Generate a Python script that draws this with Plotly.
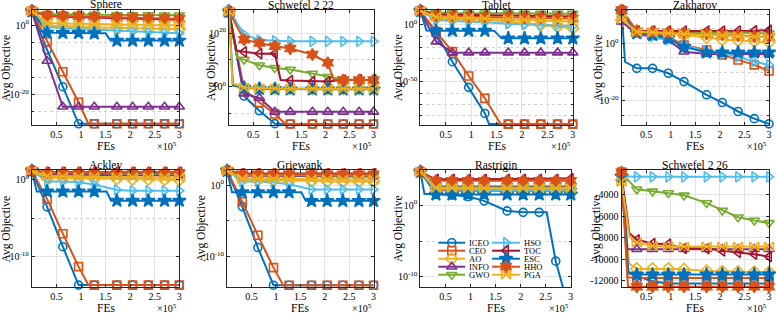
import plotly.graph_objects as go

# ---------------- data ----------------
NAMES = ["ICEO", "CEO", "AO", "INFO", "GWO", "HSO", "TOC", "ESC", "HHO", "PGA"]
FES = [0, 31000, 63000, 95000, 127000, 173000, 205000, 237000, 270000, 300000]
TITLES = ["Sphere", "Schwefel 2 22", "Tablet", "Zakharov",
          "Ackley", "Griewank", "Rastrigin", "Schwefel 2 26"]

# log10(Avg Objective) for the log panels
SPHERE = {
    "ICEO": [4.0, -7.2, -17.8, -28.5, -28.5, -28.5, -28.5, -28.5, -28.5, -28.5],
    "CEO":  [4.0, -4.8, -13.5, -22.3, -28.5, -28.5, -28.5, -28.5, -28.5, -28.5],
    "AO":   [4.0, -0.2, -0.4, -0.6, -0.7, -0.8, -0.9, -1.0, -1.1, -1.2],
    "INFO": [4.0, -10.4, -23.6, -23.6, -23.6, -23.6, -23.6, -23.6, -23.6, -23.6],
    "GWO":  [4.0, 3.2, 3.1, 3.0, 3.0, 2.9, 2.9, 2.9, 2.8, 2.8],
    "HSO":  [4.0, -0.6, -0.9, -1.1, -1.3, -1.7, -1.9, -2.1, -2.3, -2.4],
    "TOC":  [4.0, 2.6, 2.4, 2.3, 2.1, 1.9, 1.8, 1.7, 1.6, 1.5],
    "ESC":  [4.0, -2.2, -2.3, -2.3, -2.4, -4.5, -4.5, -4.5, -4.5, -4.5],
    "HHO":  [4.0, 2.7, 2.6, 2.5, 2.4, 2.2, 2.1, 2.0, 1.9, 1.8],
    "PGA":  [4.0, 0.6, 0.4, 0.3, 0.2, 0.1, 0.0, 0.0, -0.1, -0.1],
}
SCHWEFEL222 = {
    "ICEO": [27.4, -3.5, -9.0, -13.8, -13.95, -13.95, -13.95, -13.95, -13.95, -13.95],
    "CEO":  [28.0, -1.0, -5.9, -10.2, -13.95, -13.95, -13.95, -13.95, -13.95, -13.95],
    "AO":   [28.0, -0.3, -0.6, -0.7, -0.7, -0.8, -0.8, -0.8, -0.8, -0.8],
    "INFO": [27.0, -2.6, -4.2, -9.4, -9.4, -9.4, -9.4, -9.4, -9.4, -9.4],
    "GWO":  [28.0, 10.1, 8.0, 7.0, 6.4, 4.9, 3.7, 2.7, 2.5, 2.4],
    "HSO":  [28.5, 19.5, 17.4, 17.1, 16.9, 16.9, 16.9, 16.9, 16.9, 16.9],
    "TOC":  [28.0, 13.0, 12.3, 12.4, 2.3, 1.9, 1.9, 2.5, 2.6, 2.6],
    "ESC":  [28.0, -0.4, -0.8, -0.9, -1.0, -1.0, -1.0, -1.0, -1.0, -1.0],
    "HHO":  [28.0, 17.5, 16.3, 15.1, 14.2, 12.0, 8.9, 2.5, 2.5, 2.5],
    "PGA":  [28.0, -0.3, -0.6, -0.7, -0.8, -0.8, -0.8, -0.8, -0.8, -0.8],
}
TABLET = {
    "ICEO": [12.4, -7.4, -32.4, -55.0, -78.0, -87.4, -87.4, -87.4, -87.4, -87.4],
    "CEO":  [12.4, -5.9, -23.5, -45.0, -64.7, -87.4, -87.4, -87.4, -87.4, -87.4],
    "AO":   [12.4, 6.0, 5.5, 5.0, 4.5, 3.0, 1.5, 0.0, -1.5, -3.0],
    "INFO": [12.0, -14.7, -24.4, -24.4, -24.4, -24.4, -24.4, -24.4, -24.4, -24.4],
    "GWO":  [12.4, 11.0, 10.5, 10.4, 10.3, 10.2, 10.1, 10.0, 10.0, 10.0],
    "HSO":  [12.4, 4.5, 3.5, 3.0, 2.5, 1.0, 0.5, 0.0, -0.5, -1.0],
    "TOC":  [12.4, 9.5, 9.0, 8.8, 8.5, 8.3, 8.0, 7.8, 7.6, 7.5],
    "ESC":  [12.4, -5.0, -5.0, -5.0, -5.0, -11.8, -11.8, -11.8, -11.8, -11.8],
    "HHO":  [12.4, 8.0, 7.5, 7.3, 7.0, 6.8, 6.5, 6.3, 6.0, 5.8],
    "PGA":  [12.4, 7.0, 6.5, 6.0, 5.5, 5.0, 4.5, 4.0, 3.5, 3.0],
}
ZAKHAROV = {
    "ICEO": [11.3, -8.7, -8.7, -10.4, -13.3, -17.9, -20.6, -23.7, -26.2, -28.0],
    "CEO":  [11.3, 4.0, 3.5, 2.3, -0.6, -2.3, -4.0, -5.8, -7.5, -9.6],
    "AO":   [8.0, 4.5, 4.0, 3.5, 3.0, 2.0, 1.3, 1.0, 0.7, 0.4],
    "INFO": [7.5, 3.2, 2.3, 1.2, -2.9, -3.7, -3.7, -3.7, -3.7, -3.7],
    "GWO":  [11.0, 4.2, 4.2, 4.1, 4.0, 3.9, 3.8, 3.7, 3.6, 3.5],
    "HSO":  [11.5, 4.0, 2.3, 1.2, -0.6, -2.9, -3.5, -4.6, -6.4, -7.5],
    "TOC":  [11.5, 4.3, 4.3, 4.3, 4.3, 4.3, 4.3, 4.3, 4.4, 4.6],
    "ESC":  [11.0, 3.5, 2.9, 1.7, -1.2, -3.2, -3.2, -3.2, -3.2, -3.2],
    "HHO":  [11.6, 4.2, 4.0, 3.8, 3.6, 3.3, 3.1, 2.8, 2.5, 2.2],
    "PGA":  [8.5, 4.0, 3.8, 3.5, 3.2, 3.0, 2.7, 2.5, 2.3, 2.2],
}
ACKLEY = {
    "ICEO": [1.2, -3.5, -8.7, -13.7, -13.7, -13.7, -13.7, -13.7, -13.7, -13.7],
    "CEO":  [1.2, -2.5, -7.0, -11.3, -13.7, -13.7, -13.7, -13.7, -13.7, -13.7],
    "AO":   [1.2, 0.3, 0.3, 0.25, 0.2, 0.15, 0.1, 0.1, 0.05, 0.0],
    "INFO": [1.2, 0.7, 0.7, 0.65, 0.65, 0.6, 0.6, 0.6, 0.6, 0.6],
    "GWO":  [1.2, 0.9, 0.9, 0.9, 0.9, 0.85, 0.85, 0.85, 0.85, 0.85],
    "HSO":  [1.2, -0.2, -0.2, -0.3, -0.6, -1.3, -1.4, -1.4, -1.4, -1.4],
    "TOC":  [1.2, 1.0, 1.0, 1.0, 1.0, 1.0, 1.0, 1.0, 1.0, 1.0],
    "ESC":  [1.2, -1.5, -1.5, -1.5, -1.5, -2.7, -2.7, -2.7, -2.7, -2.7],
    "HHO":  [1.2, 0.95, 0.95, 0.95, 0.95, 0.95, 0.95, 0.95, 0.95, 0.95],
    "PGA":  [1.2, 0.5, 0.45, 0.4, 0.4, 0.35, 0.35, 0.35, 0.3, 0.3],
}
GRIEWANK = {
    "ICEO": [2.0, -3.0, -8.7, -13.95, -13.95, -13.95, -13.95, -13.95, -13.95, -13.95],
    "CEO":  [2.0, -2.3, -7.0, -11.5, -13.95, -13.95, -13.95, -13.95, -13.95, -13.95],
    "AO":   [2.0, 0.8, 0.7, 0.7, 0.6, 0.6, 0.5, 0.5, 0.5, 0.5],
    "INFO": [2.0, 1.3, 1.3, 1.3, 1.25, 1.25, 1.25, 1.2, 1.2, 1.2],
    "GWO":  [2.0, 1.4, 1.4, 1.4, 1.35, 1.35, 1.35, 1.3, 1.3, 1.3],
    "HSO":  [2.0, 0.5, 0.5, 0.4, 0.1, -0.6, -0.6, -0.6, -0.6, -0.6],
    "TOC":  [2.0, 1.6, 1.6, 1.6, 1.6, 1.6, 1.6, 1.6, 1.6, 1.6],
    "ESC":  [2.0, -1.0, -1.0, -1.0, -1.0, -2.2, -2.2, -2.2, -2.2, -2.2],
    "HHO":  [2.0, 1.5, 1.5, 1.5, 1.5, 1.5, 1.5, 1.5, 1.5, 1.5],
    "PGA":  [2.0, 0.9, 0.9, 0.85, 0.8, 0.8, 0.8, 0.75, 0.75, 0.75],
}
RASTRIGIN = {
    "ICEO": [4.65, 1.6, 1.4, 1.2, 0.6, -0.8, -1.0, -1.0, -7.8, -15.4],
    "CEO":  [4.65, 2.1, 2.0, 2.0, 2.0, 2.0, 2.0, 2.0, 2.0, 2.0],
    "AO":   [4.65, 2.3, 2.3, 2.3, 2.3, 2.3, 2.3, 2.3, 2.3, 2.3],
    "INFO": [4.65, 2.6, 2.6, 2.6, 2.6, 2.6, 2.6, 2.6, 2.6, 2.6],
    "GWO":  [4.65, 2.5, 2.5, 2.45, 2.45, 2.45, 2.45, 2.45, 2.45, 2.45],
    "HSO":  [4.65, 2.2, 2.2, 2.1, 2.1, 2.1, 2.1, 2.1, 2.1, 2.1],
    "TOC":  [4.65, 3.6, 3.6, 3.6, 3.6, 3.6, 3.6, 3.6, 3.6, 3.7],
    "ESC":  [4.65, 1.5, 1.5, 1.5, 1.5, 1.5, 1.5, 1.5, 1.5, 1.5],
    "HHO":  [4.65, 3.4, 3.4, 3.4, 3.4, 3.4, 3.4, 3.4, 3.4, 3.4],
    "PGA":  [4.65, 2.4, 2.4, 2.35, 2.35, 2.35, 2.35, 2.35, 2.35, 2.35],
}
# raw Avg Objective (linear panel)
SCHWEFEL226 = {
    "ICEO": [-2400, -11590, -12060, -12270, -12270, -12270, -12270, -12270, -12270, -12270],
    "CEO":  [-1900, -11760, -11760, -11760, -11760, -11760, -11760, -11760, -11760, -11760],
    "AO":   [-2600, -10900, -10900, -10900, -10950, -11100, -11150, -11180, -11200, -11210],
    "INFO": [-2500, -9080, -9080, -9080, -9080, -9080, -9080, -9080, -9080, -9080],
    "GWO":  [-2000, -3500, -3690, -3840, -4060, -4780, -5470, -6100, -6410, -6630],
    "HSO":  [-2300, -2340, -2340, -2340, -2340, -2340, -2340, -2340, -2340, -2340],
    "TOC":  [-2200, -8200, -8550, -8610, -9000, -9020, -9240, -9390, -9550, -9770],
    "ESC":  [-2300, -11430, -11430, -11430, -11430, -11430, -11430, -11430, -11430, -11430],
    "HHO":  [-1900, -12569, -12569, -12569, -12569, -12569, -12569, -12569, -12569, -12569],
    "PGA":  [-2800, -8450, -8770, -8830, -8830, -8830, -8830, -8830, -8830, -8830],
}
# extra (unmarked) points along some curves: (FEs, value)
KNOTS = {
    ("Sphere", "CEO"): [(115000, -28.5)],
    ("Sphere", "ESC"): [(150000, -2.4), (160000, -4.5)],
    ("Schwefel 2 22", "CEO"): [(117000, -13.95)],
    ("Schwefel 2 22", "AO"): [(7000, 1.0)],
    ("Schwefel 2 22", "PGA"): [(7000, 1.2)],
    ("Schwefel 2 22", "ESC"): [(8000, 0.5)],
    ("Schwefel 2 22", "GWO"): [(17000, 10.8)],
    ("Schwefel 2 22", "TOC"): [(15000, 13.5), (107000, 2.5)],
    ("Schwefel 2 22", "HHO"): [(217000, 2.6)],
    ("Tablet", "ICEO"): [(135000, -87.4)],
    ("Tablet", "CEO"): [(158000, -87.4)],
    ("Tablet", "ESC"): [(12000, -4.8), (145000, -5.0), (160000, -11.8)],
    ("Zakharov", "ICEO"): [(7000, -6.4)],
    ("Ackley", "CEO"): [(115000, -13.7)],
    ("Ackley", "ESC"): [(10000, -1.5), (152000, -1.5), (161000, -2.7)],
    ("Griewank", "CEO"): [(115000, -13.95)],
    ("Griewank", "ESC"): [(10000, -1.0), (152000, -1.0), (161000, -2.2)],
    ("Rastrigin", "ICEO"): [(252000, -1.0)],
    ("Rastrigin", "ESC"): [(8000, 1.6)],
    ("Schwefel 2 26", "HHO"): [(13000, -12569)],
    ("Schwefel 2 26", "ICEO"): [(14000, -11300)],
    ("Schwefel 2 26", "CEO"): [(12000, -11700)],
    ("Schwefel 2 26", "ESC"): [(14000, -11300)],
    ("Schwefel 2 26", "AO"): [(15000, -10400)],
    ("Schwefel 2 26", "INFO"): [(12000, -9080)],
    ("Schwefel 2 26", "TOC"): [(16000, -7600)],
    ("Schwefel 2 26", "PGA"): [(16000, -7900)],
}
PANEL_DATA = [SPHERE, SCHWEFEL222, TABLET, ZAKHAROV, ACKLEY, GRIEWANK, RASTRIGIN, SCHWEFEL226]

X_TICKS = [50000, 100000, 150000, 200000, 250000, 300000]
X_TICK_TEXT = ["0.5", "1", "1.5", "2", "2.5", "3"]

# ---------------- styles / layout ----------------
COLORS = ["#0072BD", "#D95319", "#EDB120", "#7E2F8E", "#77AC30",
          "#4DBEEE", "#A2142F", "#0072BD", "#D95319", "#EDB120"]
SYMBOLS = ["circle-open", "square-open", "diamond-open", "triangle-up-open",
           "triangle-down-open", "triangle-right-open", "triangle-left-open",
           "star", "hexagram", "bowtie-open"]
MSIZE = [8, 8, 9, 9, 9, 9, 9, 10, 9, 9]

W, H = 776, 313
BOX = [(32, 180, 10, 125), (230, 375, 10, 125), (422, 575, 10, 125), (624, 772, 10, 125),
       (32, 180, 170, 287), (228, 375, 170, 287), (422, 573, 170, 287), (624, 772, 170, 287)]
YLAB_X = [7, 212, 400, 601, 7, 202, 400, 599]
IS_LOG = [True, True, True, True, True, True, True, False]
Y_RANGE = [(-28.85, 4.33), (-14.3, 28.6), (-88.2, 13.2), (-28.4, 11.6),
           (-13.95, 1.3), (-14.2, 2.1), (-11.4, 4.9), (-12600, -1700)]
# labelled major ticks (exponents for log panels)
Y_MAJOR = [[-20, 0], [0, 20], [-50, 0], [-20, 0], [-10, 0], [-10, 0], [-10, 0],
           [-12000, -10000, -8000, -6000, -4000]]
# unlabelled minor grid positions
Y_MINOR = [[-25, -15, -10, -5], [-10, 10], [-80, -70, -60, -40, -30, -20, -10, 10],
           [-25, -15, -10, -5, 5, 10], [-5], [-5], [-5], []]

FONT = "Liberation Serif, Times New Roman, serif"
AXC = "#262626"
GRIDC = "#e3e3e3"
MINORC = "#d0d0d0"


def px_x(v):
    return v / W


def px_y(v):
    return 1 - v / H


fig = go.Figure()
layout = dict(width=W, height=H, margin=dict(l=0, r=0, t=0, b=0), autosize=False,
              paper_bgcolor="white", plot_bgcolor="rgba(0,0,0,0)", showlegend=False,
              font=dict(family=FONT, size=10, color="#000"))
annotations = []

for p, title in enumerate(TITLES):
    k = p + 1
    xa, ya = ("x", "y") if k == 1 else (f"x{k}", f"y{k}")
    data = PANEL_DATA[p]
    lo, hi = Y_RANGE[p]
    conv = (lambda v: 10.0 ** v) if IS_LOG[p] else (lambda v: float(v))
    for i, name in enumerate(NAMES):
        vals = data[name]
        pts = sorted(list(zip(FES, vals)) + KNOTS.get((title, name), []))
        fig.add_trace(go.Scatter(
            x=[q[0] for q in pts], y=[conv(q[1]) for q in pts], mode="lines",
            line=dict(color=COLORS[i], width=2), xaxis=xa, yaxis=ya,
            hoverinfo="skip", showlegend=False))
        mx = [f for f, v in zip(FES, vals) if lo <= v <= hi]
        my = [conv(v) for v in vals if lo <= v <= hi]
        fig.add_trace(go.Scatter(
            x=mx, y=my, mode="markers", cliponaxis=False,
            marker=dict(symbol=SYMBOLS[i], size=MSIZE[i], color=COLORS[i],
                        line=dict(color=COLORS[i], width=1.6)),
            xaxis=xa, yaxis=ya, hoverinfo="skip", showlegend=False))

    x0, x1, y0, y1 = BOX[p]
    xkey = "xaxis" if k == 1 else f"xaxis{k}"
    ykey = "yaxis" if k == 1 else f"yaxis{k}"
    layout[xkey] = dict(domain=[px_x(x0), px_x(x1)], anchor=ya, range=[0, 300000],
                        tickvals=X_TICKS, ticktext=X_TICK_TEXT, ticks="inside", ticklen=3,
                        tickcolor=AXC, showline=True, linecolor=AXC, linewidth=1,
                        mirror="ticks", showgrid=True, gridcolor=GRIDC, gridwidth=1,
                        zeroline=False, tickfont=dict(size=10, family=FONT),
                        fixedrange=True)
    if IS_LOG[p]:
        tv = [10.0 ** e for e in Y_MAJOR[p]]
        tt = [f"10<sup>{e}</sup>" for e in Y_MAJOR[p]]
        mv = [10.0 ** e for e in Y_MINOR[p]]
        yd = dict(type="log", range=[lo, hi], tickvals=tv, ticktext=tt)
    else:
        tv = Y_MAJOR[p]
        tt = [f"{v}" for v in Y_MAJOR[p]]
        mv = []
        yd = dict(type="linear", range=[lo, hi], tickvals=tv, ticktext=tt)
    yd.update(domain=[px_y(y1), px_y(y0)], anchor=xa, ticks="inside", ticklen=3,
              tickcolor=AXC, showline=True, linecolor=AXC, linewidth=1, mirror="ticks",
              showgrid=True, gridcolor=GRIDC, gridwidth=1, zeroline=False,
              tickfont=dict(size=10, family=FONT), fixedrange=True)
    if mv:
        yd["minor"] = dict(tickvals=mv, ticks="inside", ticklen=2, tickcolor=AXC,
                           showgrid=True, gridcolor=MINORC, griddash="dot", gridwidth=1)
    layout[ykey] = yd

    cx = (x0 + x1) / 2
    annotations.append(dict(text=title, x=px_x(cx), y=px_y(y0 - 5), xref="paper", yref="paper",
                            showarrow=False, xanchor="center", yanchor="middle", borderpad=0,
                            font=dict(size=11.5, family=FONT)))
    annotations.append(dict(text="Avg Objective", x=px_x(YLAB_X[p]), y=px_y((y0 + y1) / 2),
                            xref="paper", yref="paper", showarrow=False, textangle=-90,
                            xanchor="center", yanchor="middle", borderpad=0,
                            font=dict(size=11.5, family=FONT)))
    annotations.append(dict(text="FEs", x=px_x(cx), y=px_y(y1 + 20.5), xref="paper", yref="paper",
                            showarrow=False, xanchor="center", yanchor="middle", borderpad=0,
                            font=dict(size=11.5, family=FONT)))
    annotations.append(dict(text="×10<sup>5</sup>", x=px_x(x1 - 1), y=px_y(y1 + 21), xref="paper",
                            yref="paper", showarrow=False, xanchor="right", yanchor="middle",
                            borderpad=0, font=dict(size=10, family=FONT)))

# ---------------- legend (drawn in a pixel-space overlay axis) ----------------
LEG_COL_LINE = [(440, 467), (494, 522)]
LEG_COL_TEXT = [470, 525]
LEG_ROW_Y = [242.7, 250.7, 258.7, 266.7, 274.7]
layout["xaxis9"] = dict(domain=[0, 1], range=[0, W], visible=False, anchor="y9", fixedrange=True)
layout["yaxis9"] = dict(domain=[0, 1], range=[H, 0], visible=False, anchor="x9", fixedrange=True)
shapes = [dict(type="rect", xref="x9", yref="y9", x0=436, x1=548, y0=237.5, y1=280,
               fillcolor="white", line=dict(width=0), layer="below")]
for i, name in enumerate(NAMES):
    c, r = divmod(i, 5)
    lx0, lx1 = LEG_COL_LINE[c]
    yy = LEG_ROW_Y[r]
    fig.add_trace(go.Scatter(x=[lx0, lx1], y=[yy, yy], mode="lines",
                             line=dict(color=COLORS[i], width=2), xaxis="x9", yaxis="y9",
                             hoverinfo="skip", showlegend=False))
    fig.add_trace(go.Scatter(x=[(lx0 + lx1) / 2], y=[yy], mode="markers", cliponaxis=False,
                             marker=dict(symbol=SYMBOLS[i], size=MSIZE[i], color=COLORS[i],
                                         line=dict(color=COLORS[i], width=1.6)),
                             xaxis="x9", yaxis="y9", hoverinfo="skip", showlegend=False))
    annotations.append(dict(text=name, x=px_x(LEG_COL_TEXT[c]), y=px_y(yy), xref="paper",
                            yref="paper", showarrow=False, xanchor="left", yanchor="middle",
                            borderpad=0, font=dict(size=8.5, family=FONT)))

layout["annotations"] = annotations
layout["shapes"] = shapes
fig.update_layout(**layout)
fig.write_html("out.html", config={"displayModeBar": False})
